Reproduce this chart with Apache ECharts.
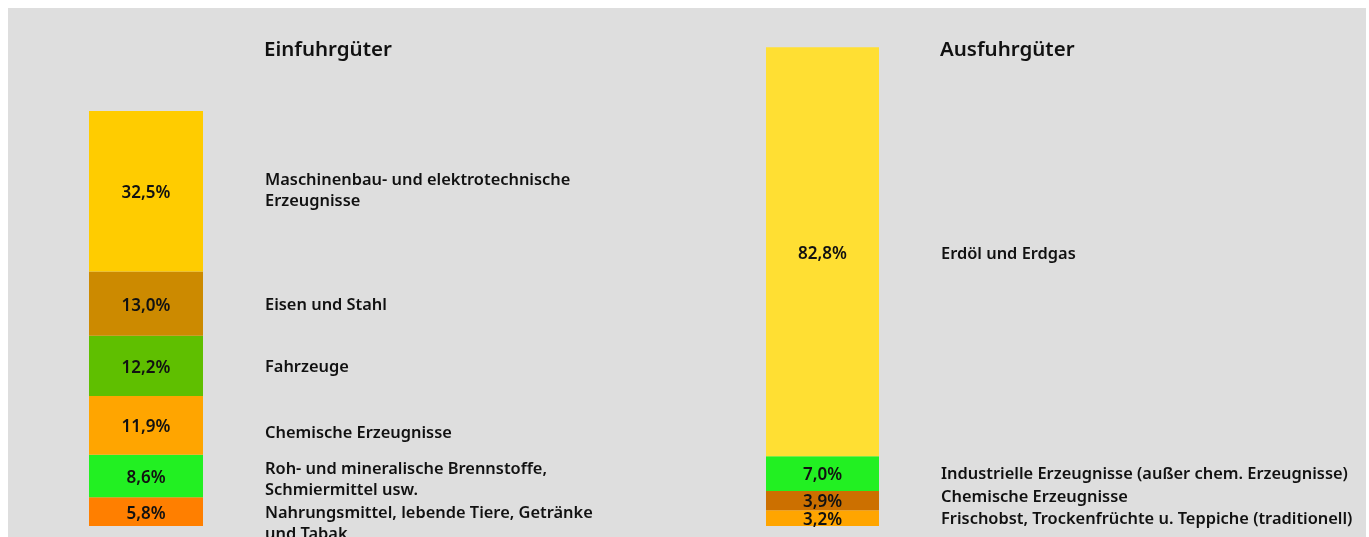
<!DOCTYPE html>
<html><head><meta charset="utf-8">
<script src="https://cdn.jsdelivr.net/npm/echarts@6/dist/echarts.min.js"></script>
<style>html,body{margin:0;padding:0;background:#fff}#c{width:1369px;height:537px}</style>
</head><body><div id="c"></div>
<script>
// Data (top segment first)
const importNames = ['Maschinenbau- und elektrotechnische\nErzeugnisse','Eisen und Stahl','Fahrzeuge','Chemische Erzeugnisse','Roh- und mineralische Brennstoffe,\nSchmiermittel usw.','Nahrungsmittel, lebende Tiere, Getränke\nund Tabak'];
const importValues = [32.5, 13.0, 12.2, 11.9, 8.6, 5.8];
const exportNames = ['Erdöl und Erdgas','Industrielle Erzeugnisse (außer chem. Erzeugnisse)','Chemische Erzeugnisse','Frischobst, Trockenfrüchte u. Teppiche (traditionell)'];
const exportValues = [82.8, 7.0, 3.9, 3.2];
const titles = ['Einfuhrgüter','Ausfuhrgüter'];

// Styles
const importColors = ['#FFCC00','#CC8A00','#5FBF00','#FFA500','#22F022','#FF7F00'];
const exportColors = ['#FFDF33','#22F022','#CC7000','#FFA500'];
const importNameDy = [0,2,1,8,4,12];
const exportNameDy = [2,1,-3,1];
const FONT = 'Noto Sans';

function fmt(v){return v.toFixed(1).replace('.',',')+'%';}

function buildSeries(names, values, colors, dys, gi){
  const s = [];
  for (let i = values.length-1; i >= 0; i--) {
    s.push({
      type:'bar', stack:'v'+gi, xAxisIndex:gi, yAxisIndex:gi, barWidth:'100%', barGap:'-100%',
      data:[values[i]], itemStyle:{color:colors[i]}, silent:true,
      label:{show:true, position:'inside', offset:[0,2], formatter:fmt(values[i]), color:'#111', fontFamily:FONT, fontWeight:600, fontSize:17}
    });
  }
  for (let i = values.length-1; i >= 0; i--) {
    const dy = dys[i];
    s.push({
      type:'bar', stack:'n'+gi, xAxisIndex:gi, yAxisIndex:gi, barWidth:'100%', barGap:'-100%',
      data:[values[i]], itemStyle:{color:'rgba(0,0,0,0)'}, silent:true,
      label:{show:true, position:'right', distance:62, formatter:names[i], color:'#111', fontFamily:FONT, fontWeight:600, fontSize:16.4, lineHeight:21, align:'left'},
      labelLayout:{dy:dy}
    });
  }
  return s;
}

const chart = echarts.init(document.getElementById('c'));
chart.setOption({
  backgroundColor:'#ffffff',
  animation:false,
  graphic:[{type:'rect', z:-10, shape:{x:8,y:8,width:1358,height:540}, style:{fill:'#DEDEDE'}}],
  title:[
    {text:titles[0], left:259, top:35, textStyle:{fontFamily:FONT, fontWeight:600, fontSize:20.5, color:'#111'}},
    {text:titles[1], left:935, top:35, textStyle:{fontFamily:FONT, fontWeight:600, fontSize:20.5, color:'#111'}}
  ],
  grid:[
    {left:89, width:114, top:32, bottom:11},
    {left:766, width:113, top:32, bottom:11}
  ],
  xAxis:[
    {type:'category', gridIndex:0, data:['a'], show:false},
    {type:'category', gridIndex:1, data:['b'], show:false}
  ],
  yAxis:[
    {type:'value', gridIndex:0, min:0, max:100, show:false},
    {type:'value', gridIndex:1, min:0, max:100, show:false}
  ],
  series:[].concat(
    buildSeries(importNames, importValues, importColors, importNameDy, 0),
    buildSeries(exportNames, exportValues, exportColors, exportNameDy, 1)
  )
});
</script></body></html>
